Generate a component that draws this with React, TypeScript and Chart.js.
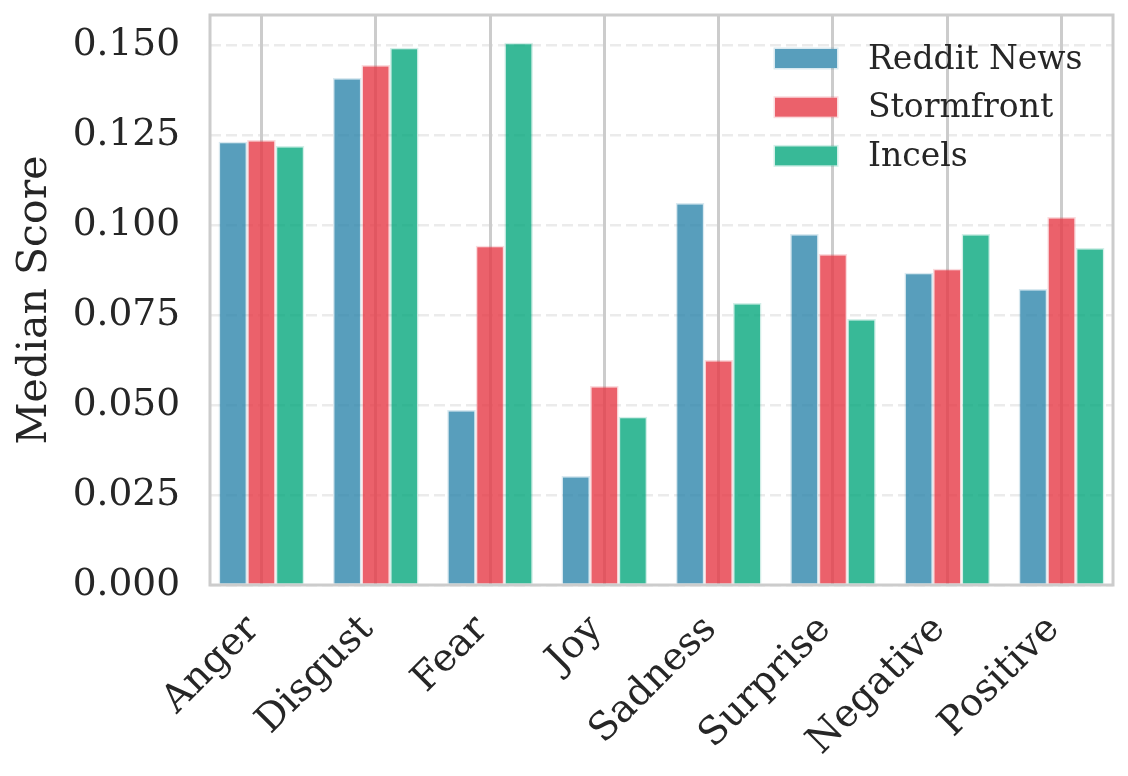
import React, { useEffect, useRef } from "react";
import { Chart, registerables } from "chart.js";

Chart.register(...registerables);

const categories = ["Anger", "Disgust", "Fear", "Joy", "Sadness", "Surprise", "Negative", "Positive"];
const seriesNames = ["Reddit News", "Stormfront", "Incels"];
const redditNews = [0.1231, 0.1408, 0.0486, 0.0303, 0.1061, 0.0975, 0.0867, 0.0822];
const stormfront = [0.1236, 0.1444, 0.0942, 0.0553, 0.0625, 0.0919, 0.0878, 0.1022];
const incels = [0.1219, 0.1492, 0.1506, 0.0467, 0.0783, 0.0739, 0.0975, 0.0936];
const yTicks = [0, 0.025, 0.05, 0.075, 0.1, 0.125, 0.15];
const seriesColors = ["rgba(46,134,171,0.8)", "rgba(230,57,70,0.8)", "rgba(6,167,125,0.8)"];
const seriesEdges = ["rgba(46,134,171,0.18)", "rgba(230,57,70,0.18)", "rgba(6,167,125,0.18)"];

const FAMILY = "'DejaVu Serif', serif";
const TEXT = "#262626";

const framePlugin = {
  id: "frameAndLegend",
  afterDatasetsDraw(chart: any) {
    const { ctx, chartArea } = chart;
    ctx.save();
    ctx.strokeStyle = "#cccccc";
    ctx.lineWidth = 3;
    ctx.strokeRect(chartArea.left, chartArea.top, chartArea.right - chartArea.left, chartArea.bottom - chartArea.top);
    const px = chartArea.right - 338;
    const tx = chartArea.right - 245;
    seriesNames.forEach((name, i) => {
      const cy = chartArea.top + 43.5 + i * 48.7;
      ctx.fillStyle = seriesEdges[i];
      ctx.fillRect(px - 1.5, cy - 11, 65, 22);
      ctx.fillStyle = "#ffffff";
      ctx.fillRect(px, cy - 9.5, 62, 19);
      ctx.fillStyle = seriesColors[i];
      ctx.fillRect(px, cy - 9.5, 62, 19);
      ctx.fillStyle = TEXT;
      ctx.font = `33px ${FAMILY}`;
      ctx.textAlign = "left";
      ctx.textBaseline = "middle";
      ctx.fillText(name, tx, cy + 1.5);
    });
    ctx.restore();
  },
};

export default function App() {
  const ref = useRef<HTMLCanvasElement | null>(null);
  useEffect(() => {
    if (!ref.current) return;
    const datasets = [redditNews, stormfront, incels].map((vals, k) => ({
      label: seriesNames[k],
      data: vals.map((v, i) => ({ x: i, y: v })),
      backgroundColor: seriesColors[k],
      borderColor: seriesEdges[k],
      borderWidth: 1.5,
      barPercentage: 1,
      categoryPercentage: 0.75,
    }));
    const chart = new Chart(ref.current, {
      type: "bar",
      data: { datasets } as any,
      options: {
        animation: false,
        responsive: false,
        devicePixelRatio: 1,
        layout: { padding: { left: 0, top: 15, right: 15, bottom: 0 } },
        plugins: { legend: { display: false }, tooltip: { enabled: false } },
        scales: {
          x: {
            type: "linear",
            min: -0.45,
            max: 7.45,
            offset: false,
            afterBuildTicks: (s: any) => {
              s.ticks = categories.map((_, i) => ({ value: i }));
            },
            afterFit: (s: any) => {
              s.height = 191;
              s.paddingLeft = 0;
              s.paddingRight = 0;
              s.paddingTop = 0;
              s.paddingBottom = 0;
            },
            grid: { display: true, color: "#cccccc", lineWidth: 3, drawTicks: false, offset: false, z: -1 },
            border: { display: false },
            ticks: {
              callback: (v: any) => categories[Math.round(Number(v))],
              autoSkip: false,
              minRotation: 45,
              maxRotation: 45,
              padding: 22,
              labelOffset: -8,
              font: { family: FAMILY, size: 38.5 },
              color: TEXT,
            },
          },
          y: {
            type: "linear",
            min: 0,
            max: 0.1583,
            afterBuildTicks: (s: any) => {
              s.ticks = yTicks.map((v) => ({ value: v }));
            },
            afterFit: (s: any) => {
              s.width = 210;
              s.paddingLeft = 0;
              s.paddingRight = 0;
              s.paddingTop = 0;
              s.paddingBottom = 0;
            },
            grid: { color: "rgba(204,204,204,0.4)", lineWidth: 2.5, drawTicks: false, z: -2 },
            border: { display: false, dash: [11, 5] },
            ticks: {
              callback: (v: any) => Number(v).toFixed(3),
              padding: 30,
              font: { family: FAMILY, size: 37.5 },
              color: TEXT,
            },
            title: {
              display: true,
              text: "Median Score",
              font: { family: FAMILY, size: 41 },
              color: TEXT,
              padding: { top: 11, bottom: 0 },
            },
          },
        },
      } as any,
      plugins: [framePlugin],
    });
    return () => chart.destroy();
  }, []);
  return (
    <div style={{ position: "absolute", left: 0, top: 0, width: 1128, height: 776, background: "#ffffff" }}>
      <canvas ref={ref} width={1128} height={776} style={{ width: 1128, height: 776, display: "block" }} />
    </div>
  );
}
